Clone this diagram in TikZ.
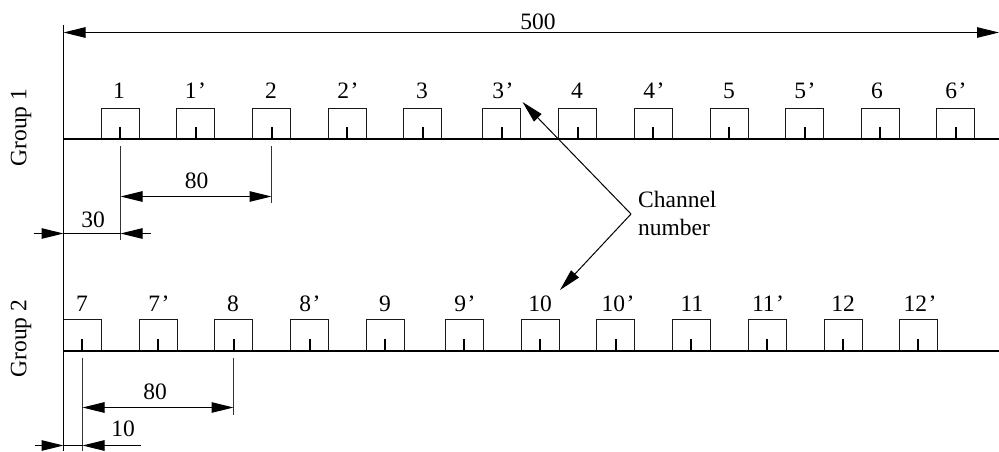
\documentclass[tikz,border=0pt]{standalone}
\usepackage{fontspec}
\setmainfont{Liberation Serif}
\usetikzlibrary{arrows.meta,calc}
\newcommand\prm{\kern1.5pt’}
\tikzset{
  x=1pt,y=-1pt,
  dim/.style={line width=1pt,-{Triangle[length=22pt,width=10.5pt]}},
  dimboth/.style={line width=1pt,{Triangle[length=22pt,width=10.5pt]}-{Triangle[length=22pt,width=10.5pt]}},
  thin line/.style={line width=1pt},
  extline/.style={line width=1pt,black!80},
  base line/.style={line width=2pt},
  slot/.style={draw=black!90,line width=1.3pt,minimum width=38pt,minimum height=30pt,inner sep=0pt,outer sep=0pt,anchor=south west},
  tick/.style={line width=2pt},
  lab/.style={anchor=base,inner sep=0pt,font=\fontsize{23.5}{26}\selectfont},
  lableft/.style={anchor=base west,inner sep=0pt,font=\fontsize{23.5}{26}\selectfont},
}
\begin{document}
\begin{tikzpicture}
\useasboundingbox (0,0) rectangle (999,451);
\fill[white] (0,0) rectangle (999,451);
% group 1
\foreach \n/\x/\tx/\lx/\t in {a/101.5/120/119/1,b/176.5/196/195.5/1\prm,c/252.5/272/271/2,d/328.5/347/348/2\prm,e/403.5/423/422/3,f/482.5/502/503/3\prm,g/558.5/578/577/4,h/634.5/653/654/4\prm,i/710.5/729/729/5,j/785.5/805/805/5\prm,k/861.5/880/877/6,l/936.5/956/956/6\prm}{
  \node[slot] (s\n) at (\x,138.5) {};
  \draw[tick] (\tx,138) -- (\tx,127);
  \node[lab] (t\n) at (\lx,98) {\t};
}
% group 2
\foreach \n/\x/\tx/\lx/\t in {m/63.5/82/82/7,n/139.5/158/159/7\prm,o/214.5/234/233/8,p/290.5/310/310/8\prm,q/366.5/385/385/9,r/445.5/464/465/9\prm,s/521.5/540/540/10,t/596.5/616/618/10\prm,u/672.5/691/692/11,v/748.5/767/768/11\prm,w/824.5/843/843/12,x/899.5/918/920/12\prm}{
  \node[slot,minimum height=31pt] (s\n) at (\x,350.5) {};
  \draw[tick] (\tx,350) -- (\tx,339);
  \node[lab] (t\n) at (\lx,311) {\t};
}
% axes
\coordinate (topv) at (63.5,25);
\coordinate (botv) at (63.5,451);
\coordinate (g1l) at (63.5,139);
\coordinate (g1r) at (999,139);
\coordinate (g2l) at (63.5,351);
\coordinate (g2r) at (999,351);
\draw[thin line] (topv) -- (botv);
\draw[base line] (g1l) -- (g1r);
\draw[base line] (g2l) -- (g2r);
% 500
\coordinate (wl) at (63.5,32.5);
\coordinate (wr) at (999,32.5);
\draw[dimboth] (wl) -- (wr);
\node[lab] (w500) at (538,29) {500};
% group 1 dims
\coordinate (e1t) at (120.5,146);
\coordinate (e1b) at (120.5,240);
\coordinate (e2t) at (271.5,146);
\coordinate (e2b) at (271.5,203);
\draw[extline] (e1t) -- (e1b);
\draw[extline] (e2t) -- (e2b);
\coordinate (d1a) at (120.5,196.5);
\coordinate (d1b) at (271.5,196.5);
\draw[dimboth] (d1a) -- (d1b);
\node[lab] (l80a) at (196.5,188) {80};
\coordinate (o1) at (33.5,233.5);
\coordinate (o2) at (63.5,233.5);
\coordinate (o3) at (120.5,233.5);
\coordinate (o4) at (151,233.5);
\draw[dim] (o1) -- (o2);
\draw[thin line] (o2) -- (o3);
\draw[dim] (o4) -- (o3);
\node[lab] (l30) at (93,227) {30};
% group 2 dims
\coordinate (f1t) at (82.5,358);
\coordinate (f1b) at (82.5,451);
\coordinate (f2t) at (233.5,358);
\coordinate (f2b) at (233.5,415);
\draw[extline] (f1t) -- (f1b);
\draw[extline] (f2t) -- (f2b);
\coordinate (d2a) at (82.5,407.5);
\coordinate (d2b) at (233.5,407.5);
\draw[dimboth] (d2a) -- (d2b);
\node[lab] (l80b) at (155,399) {80};
\coordinate (q1) at (34.5,445.5);
\coordinate (q2) at (63.5,445.5);
\coordinate (q3) at (82.5,445.5);
\coordinate (q4) at (141,445.5);
\draw[dim] (q1) -- (q2);
\draw[thin line] (q2) -- (q3);
\draw[dim] (q4) -- (q3);
\node[lab] (l10) at (123,436) {10};
% channel
\node[lableft] (ch1) at (638,207) {Channel};
\node[lableft] (ch2) at (638,235) {number};
\coordinate (apex) at (631,214);
\coordinate (up) at (522.5,102);
\coordinate (dn) at (560,290);
\draw[dim] (apex) -- (up);
\draw[dim] (apex) -- (dn);
% groups
\node[lab,rotate=90] (g1) at (26.5,127.5) {Group 1};
\node[lab,rotate=90] (g2) at (26.5,338.5) {Group 2};
\end{tikzpicture}
\end{document}
